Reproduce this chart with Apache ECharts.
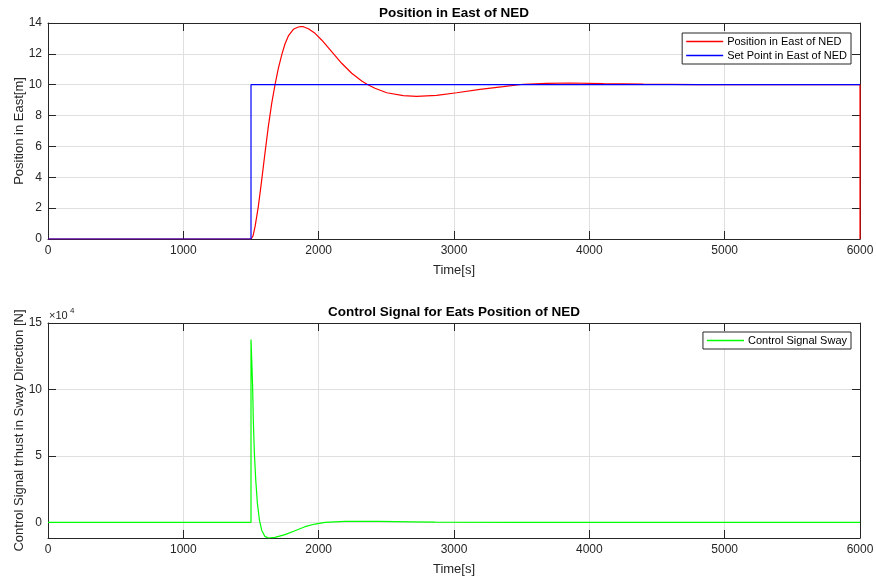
<!DOCTYPE html>
<html>
<head>
<meta charset="utf-8">
<title>Position in East of NED</title>
<script src="https://cdn.jsdelivr.net/npm/echarts@6/dist/echarts.min.js"></script>
<style>
  html, body { margin: 0; padding: 0; background: #ffffff; }
  #chart { width: 876px; height: 580px; }
</style>
</head>
<body>
<div id="chart"></div>
<script>
// Time axis ticks (seconds)
const timeTicks = [0, 1000, 2000, 3000, 4000, 5000, 6000];

// East position response [m]
const posTime = [0, 1500, 1515, 1530, 1554, 1579, 1603, 1628, 1653, 1677, 1702, 1727, 1751, 1776, 1813, 1850, 1870, 1887, 1924, 1973, 2022, 2096, 2170, 2244, 2318, 2367, 2416, 2503, 2625, 2724, 2872, 3020, 3192, 3364, 3512, 3685, 3857, 4103, 4400, 4800, 5300, 6000, 6000];
const posEast = [0, 0, 0.2, 0.8, 2.1, 3.82, 5.55, 7.28, 8.79, 9.98, 11.06, 11.93, 12.64, 13.16, 13.59, 13.74, 13.77, 13.76, 13.63, 13.33, 12.90, 12.14, 11.39, 10.74, 10.24, 9.98, 9.77, 9.48, 9.29, 9.25, 9.31, 9.48, 9.70, 9.87, 10.03, 10.09, 10.11, 10.07, 10.04, 10.01, 10.0, 10.0, 0];

// East set point [m]
const setTime = [0, 1500, 1500, 6000];
const setEast = [0, 0, 10, 10];

// Sway control thrust [N]
const ctrlTime = [0, 1500, 1500, 1506, 1512, 1517, 1525, 1535, 1547, 1562, 1579, 1603, 1628, 1677, 1751, 1825, 1899, 1973, 2047, 2195, 2441, 2687, 2860, 3500, 4500, 6000];
const ctrlSway = [0, 0, 137600, 120000, 102000, 77000, 52000, 32000, 14500, 2000, -5800, -10500, -11700, -11200, -9200, -6200, -3200, -1200, 0, 800, 800, 500, 300, 100, 0, 0];

// y-axis ticks
const posTicks = [0, 2, 4, 6, 8, 10, 12, 14];
const ctrlTicks = [0, 50000, 100000, 150000];

const pairs = (xs, ys) => xs.map((x, i) => [x, ys[i]]);

const FONT = 'Arial, "Liberation Sans", Helvetica, sans-serif';
const AX = '#262626';
const GRIDC = '#dfdfdf';

const chart = echarts.init(document.getElementById('chart'), null, { renderer: 'canvas' });

const plainNumber = v => String(v);

function xAxisMain(gridIndex) {
  return {
    type: 'value', gridIndex, position: 'bottom',
    min: timeTicks[0], max: timeTicks[timeTicks.length - 1], interval: 1000,
    name: 'Time[s]', nameLocation: 'middle', nameGap: 25,
    nameTextStyle: { fontFamily: FONT, fontSize: 13, color: AX },
    axisLine: { show: true, onZero: false, lineStyle: { color: AX, width: 1 } },
    axisTick: { show: true, inside: true, length: 8, lineStyle: { color: AX } },
    axisLabel: { show: true, margin: 6, fontFamily: FONT, fontSize: 12, color: AX, formatter: plainNumber, showMinLabel: true, showMaxLabel: true },
    splitLine: { show: true, lineStyle: { color: GRIDC, width: 1 } }
  };
}
function xAxisTop(gridIndex) {
  return {
    type: 'value', gridIndex, position: 'top',
    min: timeTicks[0], max: timeTicks[timeTicks.length - 1], interval: 1000,
    axisLine: { show: true, onZero: false, lineStyle: { color: AX, width: 1 } },
    axisTick: { show: true, inside: true, length: 8, lineStyle: { color: AX } },
    axisLabel: { show: false },
    splitLine: { show: false }
  };
}

const posY = {
  min: posTicks[0], max: posTicks[posTicks.length - 1], interval: 2
};
const ctrlY = {
  min: -11700, max: ctrlTicks[ctrlTicks.length - 1], minInterval: 50000, maxInterval: 50000, splitNumber: 3
};

function yAxisLeft(gridIndex, range, name, formatter) {
  return Object.assign({
    type: 'value', gridIndex, position: 'left',
    name, nameLocation: 'middle', nameGap: 22, nameRotate: 90, nameMoveOverlap: false,
    nameTextStyle: { fontFamily: FONT, fontSize: 13, color: AX },
    axisLine: { show: true, onZero: false, lineStyle: { color: AX, width: 1 } },
    axisTick: { show: true, inside: true, length: 8, lineStyle: { color: AX } },
    axisLabel: { show: true, margin: 6, fontFamily: FONT, fontSize: 12, color: AX, formatter, showMinLabel: true, showMaxLabel: true },
    splitLine: { show: true, lineStyle: { color: GRIDC, width: 1 } }
  }, range);
}
function yAxisRight(gridIndex, range) {
  return Object.assign({
    type: 'value', gridIndex, position: 'right',
    axisLine: { show: true, onZero: false, lineStyle: { color: AX, width: 1 } },
    axisTick: { show: true, inside: true, length: 8, lineStyle: { color: AX } },
    axisLabel: { show: false },
    splitLine: { show: false }
  }, range);
}

const ctrlFormatter = v => (Math.abs(v % 50000) < 1e-6 ? String(v / 10000) : '');

const legendBase = {
  orient: 'vertical', right: 25, selectedMode: false,
  backgroundColor: '#ffffff', borderColor: AX, borderWidth: 1, borderRadius: 0,
  padding: [3, 4, 3, 4], itemGap: 3, itemWidth: 37, itemHeight: 1.5,
  textStyle: { fontFamily: FONT, fontSize: 11, color: '#000000', padding: [0, 0, 0, -1] }
};

chart.setOption({
  animation: false,
  backgroundColor: '#ffffff',
  grid: [
    { left: 48, top: 23, width: 812, height: 216, outerBoundsMode: 'none', containLabel: false },
    { left: 48, top: 323, width: 812, height: 215, outerBoundsMode: 'none', containLabel: false }
  ],
  xAxis: [xAxisMain(0), xAxisTop(0), xAxisMain(1), xAxisTop(1)],
  yAxis: [
    yAxisLeft(0, posY, 'Position in East[m]', plainNumber),
    yAxisRight(0, posY),
    yAxisLeft(1, ctrlY, 'Control Signal trhust in Sway Direction [N]', ctrlFormatter),
    yAxisRight(1, ctrlY)
  ],
  legend: [
    Object.assign({}, legendBase, {
      top: 33,
      data: [
        { name: 'Position in East of NED', icon: 'rect' },
        { name: 'Set Point in East of NED', icon: 'rect' }
      ]
    }),
    Object.assign({}, legendBase, {
      top: 332,
      data: [{ name: 'Control Signal Sway', icon: 'rect' }]
    })
  ],
  graphic: [
    { type: 'text', x: 454, y: 13, style: { text: 'Position in East of NED', fill: '#000000', font: 'bold 13.5px ' + FONT, align: 'center', verticalAlign: 'middle' } },
    { type: 'text', x: 454, y: 312, style: { text: 'Control Signal for Eats Position of NED', fill: '#000000', font: 'bold 13.5px ' + FONT, align: 'center', verticalAlign: 'middle' } },
    { type: 'text', x: 49, y: 316, style: { text: '\u00d710', fill: AX, font: '11px ' + FONT, align: 'left', verticalAlign: 'middle' } },
    { type: 'text', x: 70, y: 311, style: { text: '4', fill: AX, font: '8px ' + FONT, align: 'left', verticalAlign: 'middle' } }
  ],
  series: [
    {
      name: 'Position in East of NED', type: 'line', xAxisIndex: 0, yAxisIndex: 0,
      data: pairs(posTime, posEast), showSymbol: false, symbol: 'none',
      color: '#ff0000', itemStyle: { color: '#ff0000' },
      lineStyle: { color: '#ff0000', width: 1.2 }
    },
    {
      name: 'Set Point in East of NED', type: 'line', xAxisIndex: 0, yAxisIndex: 0,
      data: pairs(setTime, setEast), showSymbol: false, symbol: 'none',
      color: '#0000ff', itemStyle: { color: '#0000ff' },
      lineStyle: { color: '#0000ff', width: 1.2 }
    },
    {
      name: 'Control Signal Sway', type: 'line', xAxisIndex: 2, yAxisIndex: 2,
      data: pairs(ctrlTime, ctrlSway), showSymbol: false, symbol: 'none',
      color: '#00ff00', itemStyle: { color: '#00ff00' },
      lineStyle: { color: '#00ff00', width: 1.2 }
    }
  ]
});
</script>
</body>
</html>
